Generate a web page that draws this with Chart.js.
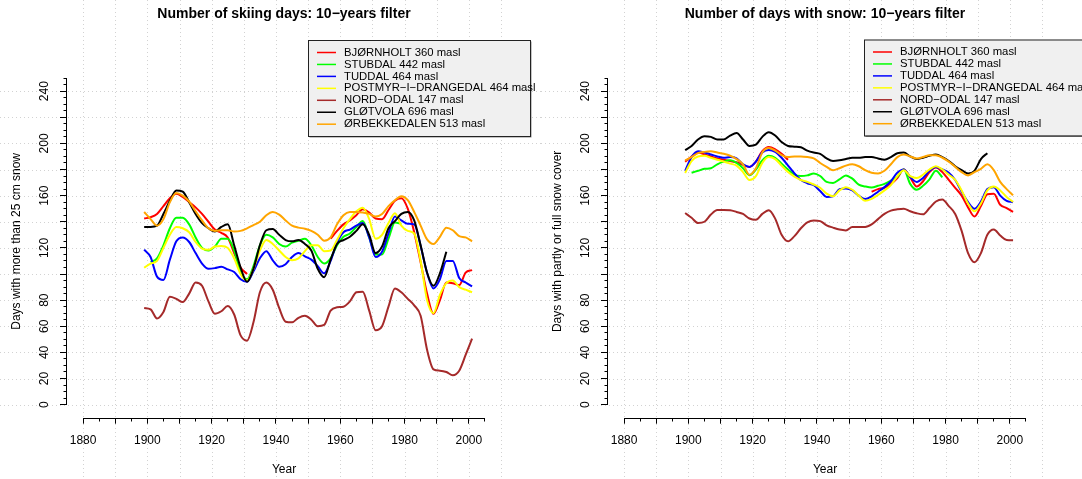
<!DOCTYPE html>
<html>
<head>
<meta charset="utf-8">
<script src="https://cdn.jsdelivr.net/npm/chart.js@4.4.1/dist/chart.umd.min.js"></script>
<style>
  html, body { margin: 0; padding: 0; background: #fff; }
  #wrap { display: flex; width: 1082px; height: 479px; overflow: hidden; }
  canvas { display: block; }
</style>
</head>
<body>
<div id="wrap">
  <canvas id="skiChart" width="541" height="479"></canvas>
  <canvas id="snowChart" width="541" height="479"></canvas>
</div>
<script>
// Data //

const years = [
  1899, 1901, 1903, 1905, 1907, 1909, 1911, 1913, 1915, 1917,
  1919, 1921, 1923, 1925, 1927, 1929, 1931, 1933, 1935, 1937,
  1939, 1941, 1943, 1945, 1947, 1949, 1951, 1953, 1955, 1957,
  1959, 1961, 1963, 1965, 1967, 1969, 1971, 1973, 1975, 1977,
  1979, 1981, 1983, 1985, 1987, 1989, 1991, 1993, 1995, 1997,
  1999, 2001
];

const stations = [
  'BJØRNHOLT 360 masl',
  'STUBDAL 442 masl',
  'TUDDAL 464 masl',
  'POSTMYR−I−DRANGEDAL 464 masl',
  'NORD−ODAL 147 masl',
  'GLØTVOLA 696 masl',
  'ØRBEKKEDALEN 513 masl'
];

const yearLabels = [1880, 1900, 1920, 1940, 1960, 1980, 2000];
const dayLabels = [0, 20, 40, 60, 80, 120, 160, 200, 240];

// skiing days (more than 25 cm snow)
const bjornholtSki = [
  142.5, 143.5, 146, 152, 158, 161.5, 159, 155, 151, 146,
  140, 134, 131.5, 128, 116, 105, 100, null, null, null,
  null, null, null, null, null, null, null, null, null, 127,
  133, 138, 141, 145, 149.5, 147, 142.5, 142, 149, 156,
  158, 150, 132, 109, 85, 69.5, 80, 93.5, 93, 91.5,
  101, 103
];
const stubdalSki = [
  null, 109, 112, 122, 135, 143, 143, 138, 128, 120,
  118, 121, 127, 127, 118, 101, 96, 106, 122, 130,
  128, 123, 121, 124, 125.5, 127, 122, 113, 108, 112,
  122, 128.5, 131, 136, 140.5, 128, 115, 115, 127, 139.5,
  138.5, null, null, null, null, null, null, null, null, null,
  null, null
];
const tuddalSki = [
  118.6, 113, 98, 95.5, 111, 125, 128, 124.5, 116, 108,
  104, 104.5, 105.5, 103.5, 101.5, 96, 94, 102, 112, 117.5,
  110.5, 105.5, 107.5, 113, 116, 113.5, 111, 106, 100.5, 110,
  124, 132, 134, 137, 139, 128, 113, 117, 131, 144,
  141, 138.5, 138, 121.5, 101, 89, 96, 110, 110, 97,
  93.5, 90.5
];
const postmyrSki = [
  104.8, 108, 110, 120, 130, 136, 135, 132, 124.5, 119.5,
  118.5, 121, 121.5, 120, 112, 100, 95, 104, 118, 126,
  123, 118, 113, 110.5, 112, 117.5, 122, 122, 117.5, 118,
  126, 135, 142, 148, 150.8, 142, 127, 130, 139, 146.5,
  137, 133, 131, 110, 80, 70, 84, 93, 95, 90,
  88, 86
];
const nordOdalSki = [
  74, 73, 66, 71, 82.5, 81, 78.5, 85, 93.5, 91,
  79, 69.5, 71.5, 75.5, 69, 53, 49, 63, 86, 93.5,
  88, 74, 63.5, 63, 66.5, 68, 65, 60, 61, 72,
  74.5, 75, 79, 86, 86.5, 72, 57, 60, 75, 89,
  86, 81, 76, 68, 42, 27, 26, 25, 22.5, 26,
  38, 50.5
];
const glotvolaSki = [
  136, 136, 137, 146, 156, 164, 163, 155, 146, 139,
  135, 132.5, 136, 138, 122, 105, 94, 104, 122, 133.5,
  134.5, 130, 126, 125, 126, 123, 118, 104, 97.5, 111,
  123, 126, 128.5, 133, 138, 130, 116, 121, 135, 140.5,
  146, 147.5, 141, 122, 101, 91, 100.5, 117, null, null,
  null, null
];
const orbekkedalenSki = [
  147.5, 142, 137, 142, 155, 162, 160, 155.5, 148, 141,
  135, 133, 133.5, 133.5, 132.5, 133, 135, 137.5, 140, 145,
  147.5, 145.5, 141, 137, 135.5, 134.7, 133, 130, 125.5, 128,
  138, 145, 147.5, 147.5, 147, 146, 144, 146, 152, 156.5,
  159.5, 156.5, 147.5, 137, 126.5, 123, 128.5, 135.5, 133.5, 129,
  128, 125
];

// days with partly or full snow cover
const bjornholtSnow = [
  186, 190, 193, 191.5, 190, 188.5, 187.5, 186.5, 185.5, 183.5,
  182, 186, 194, 197.3, 195.5, 192, 187.5, null, null, null,
  null, null, null, null, null, null, null, null, null, 163,
  165, 166, 169, 173.5, 180, 174, 167, 171, 178, 181.5,
  178, 172, 166, 160, 151, 144, 152, 161, 161.5, 153,
  150.5, 147.5
];
const stubdalSnow = [
  null, 177.5, 179, 180.5, 181, 184, 186, 187, 185, 181,
  175.6, 180, 187, 190.5, 189, 184.5, 180, 176, 175, 175.5,
  177, 175, 170.5, 169.7, 172.5, 175.5, 173, 168.5, 167, 166.2,
  167.5, 169, 171.5, 174.5, 180, 169, 164.5, 167.5, 172.5, 179,
  174, null, null, null, null, null, null, null, null, null,
  null, null
];
const tuddalSnow = [
  179, 189.5, 194, 193, 191.5, 190, 189, 189.5, 188.5, 184,
  182, 186, 193, 195, 193.5, 189, 183, 177, 172, 169.5,
  168, 163.5, 159, 159.5, 165, 165.5, 164, 160, 157.5, 159.5,
  163, 166.5, 171, 177.5, 180, 174.3, 170.5, 173.5, 179, 182,
  180, 177.5, 172, 163, 155, 150, 155.5, 165, 166.5, 160,
  156, 155
];
const postmyrSnow = [
  177.4, 186.5, 190, 190.5, 189, 187.5, 186, 184.5, 183, 178,
  172, 175, 185, 189.5, 188, 183, 178, 174.5, 172, 170.5,
  168.5, 166, 161.5, 159.5, 164, 166.5, 164.5, 160, 156, 157.5,
  160.5, 164, 168, 175, 179.5, 175, 173.5, 176, 180, 182.5,
  180, 176, 172, 164, 154, 148, 154, 164, 167, 164,
  159, 155.2
];
const nordOdalSnow = [
  146.7, 143, 139, 140, 145.5, 149, 149, 148.8, 147.5, 146,
  142.5, 141.5, 146, 148.8, 142.4, 130, 125, 129, 135, 139.5,
  141, 140.5, 137.3, 135.5, 134, 133.4, 136, 136, 136, 138,
  142, 146, 148.5, 149.5, 150, 148, 146.5, 145.7, 150.5, 155.5,
  157, 152, 146, 133, 116, 109, 116, 130, 134, 129.5,
  126, 125.8
];
const glotvolaSnow = [
  194.8, 198, 203, 205.5, 205, 203, 203, 206, 208, 203,
  198, 199, 205, 208.5, 206, 201, 198, 197.5, 197, 194.5,
  193, 192, 188.5, 186.5, 187, 188, 189, 189, 189.5, 189.5,
  188.5, 187.5, 189.5, 192.5, 193, 190, 188, 189, 190.5, 191.5,
  189.5, 186.5, 182.5, 179.5, 177, 179, 188, 192.5, null, null,
  null, null
];
const orbekkedalenSnow = [
  187, 189.5, 192.5, 193.5, 194, 193, 192, 190.5, 188, 184,
  176, 181, 193, 196.5, 194.5, 191, 189.5, 190, 190, 189.5,
  188.5, 185, 182, 179.5, 181, 183, 184, 182.5, 179.5, 177.5,
  177, 179, 184, 189.5, 191.5, 190, 188.5, 189.5, 191, 191,
  189, 186, 182, 178, 175.5, 178, 180.5, 184, 179.5, 170.5,
  165, 160.3
];

const colours = ['#ff0000', '#00ff00', '#0000ff', '#ffff00', '#a52a2a', '#000000', '#ffa500'];

const FONT = '"Liberation Sans", Arial, sans-serif';
Chart.defaults.font.family = FONT;
Chart.defaults.color = '#000';

// Plugins //

// dotted grid over the whole figure, like abline() with xpd
const rGrid = {
  id: 'rGrid',
  beforeDraw(chart) {
    const { ctx, width, height, scales: { x, y } } = chart;
    ctx.save();
    ctx.strokeStyle = '#d2d2d2';
    ctx.lineWidth = 1;
    ctx.setLineDash([1, 3]);
    for (let v = 1880; v <= 2010; v += 10) {
      const px = Math.round(x.getPixelForValue(v)) + 0.5;
      ctx.beginPath(); ctx.moveTo(px, 0); ctx.lineTo(px, height); ctx.stroke();
    }
    for (let v = 0; v <= 240; v += 20) {
      const py = Math.round(y.getPixelForValue(v)) + 0.5;
      ctx.beginPath(); ctx.moveTo(0, py); ctx.lineTo(width, py); ctx.stroke();
    }
    ctx.restore();
  }
};

// axis lines only span the tick range, plus the short minor ticks
const rAxes = {
  id: 'rAxes',
  afterDraw(chart) {
    const { ctx, chartArea, scales: { x, y } } = chart;
    const ax = Math.round(chartArea.left) - 0.5;
    const ay = Math.round(chartArea.bottom) + 0.5;
    const align = p => Math.round(p - 0.5) + 0.5;
    ctx.save();
    ctx.strokeStyle = '#000';
    ctx.lineWidth = 1;
    ctx.beginPath();
    ctx.moveTo(ax, y.getPixelForValue(0));
    ctx.lineTo(ax, y.getPixelForValue(250));
    ctx.moveTo(x.getPixelForValue(1880), ay);
    ctx.lineTo(x.getPixelForValue(2005), ay);
    for (let v = 5; v <= 250; v += 5) {
      if (v % 20 === 0) continue;
      const py = align(y.getPixelForValue(v));
      ctx.moveTo(ax + 0.5 - 3.5, py);
      ctx.lineTo(ax + 0.5, py);
    }
    for (let v = 1885; v <= 2005; v += 10) {
      const px = align(x.getPixelForValue(v));
      ctx.moveTo(px, ay - 0.5);
      ctx.lineTo(px, ay - 0.5 + 3.5);
    }
    ctx.stroke();
    ctx.restore();
  }
};

const boxLegend = {
  id: 'boxLegend',
  afterDraw(chart, args, opts) {
    const { ctx } = chart;
    const { x, y, w, h } = opts;
    ctx.save();
    ctx.fillStyle = '#8a8a8a';
    ctx.fillRect(x + 1.5, y + 1.5, w, h);
    ctx.fillStyle = '#f0f0f0';
    ctx.fillRect(x, y, w, h);
    ctx.strokeStyle = '#222';
    ctx.lineWidth = 1;
    ctx.strokeRect(x + 0.5, y + 0.5, w, h);
    ctx.font = '11.3px ' + FONT;
    ctx.textBaseline = 'middle';
    chart.data.datasets.forEach((ds, i) => {
      const cy = y + 12.5 + i * 11.95;
      ctx.strokeStyle = ds.borderColor;
      ctx.lineWidth = 1.5;
      ctx.beginPath(); ctx.moveTo(x + 9, cy); ctx.lineTo(x + 28, cy); ctx.stroke();
      ctx.fillStyle = '#000';
      ctx.fillText(ds.label, x + 36, cy);
    });
    ctx.restore();
  }
};

// Charts //

function toPoints(values) {
  return years.map((yr, i) => ({ x: yr, y: values[i] }));
}

function makeChart(canvasId, title, yTitle, series, legendX, legendY) {
  const ctx = document.querySelector('#' + canvasId).getContext('2d');
  const axisFont = { family: FONT, size: 12 };
  return new Chart(ctx, {
    type: 'line',
    data: {
      datasets: series.map((values, i) => ({
        label: stations[i],
        data: toPoints(values),
        borderColor: colours[i],
        backgroundColor: colours[i],
        borderWidth: 2,
        pointRadius: 0,
        fill: false,
        spanGaps: false,
        cubicInterpolationMode: 'monotone',
        order: series.length - i
      }))
    },
    options: {
      responsive: false,
      animation: false,
      events: [],
      layout: { padding: { left: 0, right: 40, top: 0, bottom: 0 } },
      plugins: {
        legend: { display: false },
        tooltip: { enabled: false },
        title: {
          display: true,
          text: title,
          fullSize: false,
          color: '#000',
          font: { family: FONT, size: 14, weight: 'bold' },
          padding: { top: 5.6, bottom: 42.6 }
        },
        boxLegend: { x: legendX, y: legendY, w: 222, h: 96 }
      },
      scales: {
        x: {
          type: 'linear',
          min: 1875,
          max: 2010,
          afterBuildTicks: scale => {
            const t = [];
            for (let v = 1880; v <= 2000; v += 10) t.push({ value: v });
            scale.ticks = t;
          },
          afterFit: scale => { scale.height = 61.3; },
          border: { display: false },
          grid: { drawOnChartArea: false, drawTicks: true, tickLength: 6, color: '#000' },
          ticks: {
            autoSkip: false,
            maxRotation: 0,
            padding: 9.5,
            color: '#000',
            font: axisFont,
            callback: v => yearLabels.includes(v) ? String(v) : ''
          },
          title: { display: true, text: 'Year', color: '#000', font: axisFont, padding: { top: 0, bottom: 1.8 } }
        },
        y: {
          type: 'linear',
          min: -10,
          max: 260,
          afterBuildTicks: scale => {
            const t = [];
            for (let v = 0; v <= 240; v += 20) t.push({ value: v });
            scale.ticks = t;
          },
          afterFit: scale => { scale.width = 67; },
          border: { display: false },
          grid: { drawOnChartArea: false, drawTicks: true, tickLength: 7, color: '#000' },
          ticks: {
            autoSkip: false,
            minRotation: 90,
            maxRotation: 90,
            crossAlign: 'center',
            padding: 5,
            color: '#000',
            font: axisFont,
            callback: v => dayLabels.includes(v) ? String(v) : ''
          },
          title: { display: true, text: yTitle, color: '#000', font: axisFont, padding: { top: 9.8, bottom: 0 } }
        }
      }
    },
    plugins: [rGrid, rAxes, boxLegend]
  });
}

document.addEventListener('DOMContentLoaded', () => {
  makeChart('skiChart', 'Number of skiing days: 10−years filter', 'Days with more than 25 cm snow',
    [bjornholtSki, stubdalSki, tuddalSki, postmyrSki, nordOdalSki, glotvolaSki, orbekkedalenSki], 308, 40);
  makeChart('snowChart', 'Number of days with snow: 10−years filter', 'Days with partly or full snow cover',
    [bjornholtSnow, stubdalSnow, tuddalSnow, postmyrSnow, nordOdalSnow, glotvolaSnow, orbekkedalenSnow], 323, 39.5);
});
</script>
</body>
</html>
